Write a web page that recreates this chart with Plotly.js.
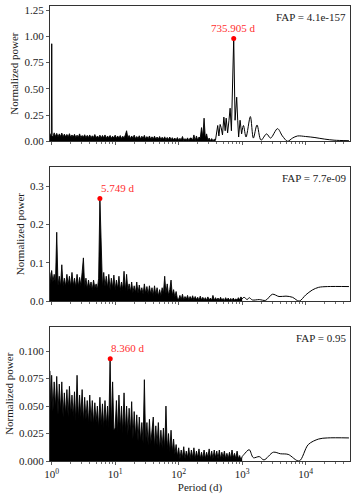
<!DOCTYPE html>
<html>
<head>
<meta charset="utf-8">
<script src="https://cdn.plot.ly/plotly-3.0.1.min.js"></script>
<style>html,body{margin:0;padding:0;background:#fff}#chart{width:357px;height:498px}</style>
</head>
<body>
<div id="chart"></div>
<script>
// Shared period grid (days) for the dense low-period part of each periodogram
const periodGrid = [0.94, 0.97,
 1.000, 1.047, 1.096, 1.148, 1.202, 1.259, 1.318, 1.380, 1.445, 1.514, 1.585, 1.660, 1.738, 1.820, 1.905, 1.995, 2.089, 2.188, 2.291, 2.399, 2.512, 2.630, 2.754, 2.884, 3.020, 3.162, 3.311, 3.467, 3.631, 3.802, 3.981, 4.169, 4.365, 4.571, 4.786, 5.012, 5.248, 5.495, 5.754, 6.026, 6.310, 6.607, 6.918, 7.244, 7.586, 7.943, 8.318, 8.710, 9.120, 9.550,
 10.00, 10.47, 10.96, 11.48, 12.02, 12.59, 13.18, 13.80, 14.45, 15.14, 15.85, 16.60, 17.38, 18.20, 19.05, 19.95, 20.89, 21.88, 22.91, 23.99, 25.12, 26.30, 27.54, 28.84, 30.20, 31.62, 33.11, 34.67, 36.31, 38.02, 39.81, 41.69, 43.65, 45.71, 47.86, 50.12, 52.48, 54.95, 57.54, 60.26, 63.10, 66.07, 69.18, 72.44, 75.86, 79.43, 83.18, 87.10, 91.20, 95.50,
 100.0, 104.7, 109.6, 114.8, 120.2, 125.9, 131.8, 138.0, 144.5, 151.4, 158.5, 166.0, 173.8, 182.0, 190.5, 199.5, 208.9, 218.8, 229.1, 239.9, 251.2, 263.0, 275.4, 288.4, 302.0, 316.2, 331.1, 346.7, 363.1, 380.2, 398.1, 416.9, 436.5, 457.1, 478.6, 501.2, 524.8, 549.5, 575.4, 602.6, 631.0, 660.7, 691.8, 724.4, 758.6, 794.3, 831.8, 871.0, 912.0, 955.0,
 1000];

// Panel 1 (FAP = 4.1e-157)
const p1Noise = [0.075, 0.05,
 0.06, 0.04, 0.08, 0.045, 0.075, 0.04, 0.07, 0.045, 0.078, 0.04,
 0.068, 0.042, 0.065, 0.04, 0.072, 0.038, 0.06, 0.04, 0.066, 0.035,
 0.058, 0.038, 0.07, 0.034, 0.055, 0.038, 0.062, 0.032, 0.056, 0.036,
 0.06, 0.032, 0.052, 0.036, 0.064, 0.03, 0.05, 0.034, 0.058, 0.03,
 0.055, 0.032, 0.06, 0.028, 0.05, 0.033, 0.055, 0.028, 0.048, 0.03,
 0.058, 0.028, 0.05, 0.03, 0.054, 0.026, 0.048, 0.03, 0.06, 0.1,
 0.03, 0.055, 0.026, 0.05, 0.028, 0.058, 0.025, 0.045, 0.026, 0.052,
 0.022, 0.048, 0.025, 0.056, 0.022, 0.044, 0.024, 0.05, 0.02, 0.042,
 0.022, 0.048, 0.018, 0.04, 0.02, 0.045, 0.017, 0.038, 0.018, 0.042,
 0.015, 0.036, 0.017, 0.04, 0.013, 0.034, 0.014, 0.03, 0.012, 0.035,
 0.01, 0.028, 0.012, 0.045, 0.008, 0.025, 0.01, 0.032, 0.006, 0.03,
 0.03, 0.01, 0.06, 0.008, 0.05, 0.01, 0.04, 0.03, 0.13, 0.04,
 0.22, 0.03, 0.07, 0.01, 0.03, 0.005, 0.025, 0.004, 0.02, 0.01];
const p1SpikePeriod = [0.99, 1.003, 1.016];
const p1SpikePower  = [0.06, 0.93, 0.06];
const p1ClusterPeriod = [380, 400, 412, 430, 450, 467, 490, 515, 540, 560, 590, 620, 646, 677, 736, 773, 820, 850, 880, 927, 980];
const p1ClusterPower  = [0.01, 0.12, 0.15, 0.05, 0.16, 0.13, 0.06, 0.23, 0.10, 0.22, 0.08, 0.20, 0.315, 0.10, 0.98, 0.20, 0.42, 0.20, 0.04, 0.20, 0.07];
const p1TailPeriod = [980, 1048, 1150, 1346, 1500, 1714, 1980, 2426, 2800, 3606, 4300, 5190, 6200, 7430, 10000, 14000, 20000, 28000, 48000];
const p1TailPower  = [0.07, 0.15, 0.04, 0.235, 0.03, 0.155, 0.01, 0.07, 0.03, 0.12, 0.05, 0.0, 0.03, 0.05, 0.045, 0.035, 0.02, 0.01, 0.005];

// Panel 2 (FAP = 7.7e-09)
const p2Noise = [0.075, 0.045,
 0.08, 0.05, 0.07, 0.045, 0.18, 0.04, 0.065, 0.038, 0.095, 0.04,
 0.06, 0.038, 0.07, 0.042, 0.065, 0.038, 0.075, 0.04, 0.06, 0.036,
 0.07, 0.038, 0.062, 0.04, 0.075, 0.113, 0.035, 0.06, 0.032, 0.055,
 0.035, 0.05, 0.03, 0.055, 0.034, 0.045, 0.03, 0.06, 0.268, 0.12,
 0.035, 0.075, 0.038, 0.065, 0.034, 0.07, 0.03, 0.06, 0.034, 0.068,
 0.03, 0.055, 0.032, 0.065, 0.028, 0.05, 0.03, 0.078, 0.025, 0.07,
 0.028, 0.045, 0.024, 0.05, 0.022, 0.04, 0.022, 0.05, 0.02, 0.042,
 0.022, 0.035, 0.018, 0.045, 0.02, 0.038, 0.017, 0.04, 0.018, 0.035,
 0.015, 0.04, 0.016, 0.035, 0.013, 0.03, 0.014, 0.035, 0.02, 0.065,
 0.02, 0.045, 0.015, 0.03, 0.055, 0.015, 0.03, 0.01, 0.025, 0.006,
 0.005, 0.015, 0.004, 0.018, 0.003, 0.012, 0.005, 0.015, 0.003, 0.012,
 0.004, 0.014, 0.003, 0.012, 0.004, 0.01, 0.002, 0.013, 0.003, 0.01,
 0.003, 0.009, 0.002, 0.011, 0.003, 0.008, 0.002, 0.015, 0.002, 0.009,
 0.003, 0.008, 0.002, 0.01, 0.002, 0.007, 0.001, 0.009, 0.002, 0.008,
 0.002, 0.007, 0.001, 0.008, 0.002, 0.006, 0.002, 0.009, 0.003, 0.011, 0.006];
const p2TailPeriod = [1000, 1070, 1200, 1290, 1450, 1860, 2340, 3000, 3800, 4900, 6200, 7900, 10000, 12700, 16000, 22000, 48000];
const p2TailPower  = [0.006, 0.01, 0.004, 0.009, 0.003, 0.004, 0.002, 0.018, 0.012, 0.013, 0.01, 0.0, 0.016, 0.029, 0.036, 0.038, 0.038];

// Panel 3 (FAP = 0.95)
const p3Noise = [0.082, 0.045,
 0.078, 0.045, 0.072, 0.048, 0.077, 0.042, 0.07, 0.045, 0.072, 0.04,
 0.062, 0.042, 0.065, 0.04, 0.068, 0.042, 0.06, 0.04, 0.063, 0.036,
 0.078, 0.038, 0.06, 0.04, 0.065, 0.035, 0.058, 0.038, 0.055, 0.034,
 0.06, 0.035, 0.055, 0.033, 0.053, 0.035, 0.05, 0.03, 0.058, 0.032,
 0.052, 0.03, 0.055, 0.032, 0.05, 0.03, 0.093, 0.03, 0.072, 0.028,
 0.03, 0.055, 0.026, 0.06, 0.028, 0.05, 0.025, 0.062, 0.026, 0.05,
 0.024, 0.048, 0.025, 0.054, 0.02, 0.045, 0.022, 0.042, 0.018, 0.04,
 0.018, 0.035, 0.016, 0.074, 0.015, 0.035, 0.014, 0.038, 0.015, 0.03,
 0.04, 0.012, 0.032, 0.014, 0.035, 0.01, 0.028, 0.012, 0.03, 0.01,
 0.05, 0.01, 0.025, 0.008, 0.028, 0.008, 0.02, 0.006, 0.015, 0.004,
 0.012, 0.002, 0.01, 0.003, 0.013, 0.002, 0.009, 0.003, 0.012, 0.002,
 0.01, 0.003, 0.012, 0.002, 0.009, 0.003, 0.011, 0.002, 0.008, 0.002,
 0.01, 0.002, 0.008, 0.003, 0.011, 0.002, 0.009, 0.002, 0.01, 0.003,
 0.009, 0.002, 0.01, 0.002, 0.008, 0.003, 0.009, 0.002, 0.007, 0.002,
 0.008, 0.002, 0.01, 0.003, 0.007, 0.002, 0.009, 0.002, 0.005, 0.001, 0.004];
const p3TailPeriod = [1000, 1070, 1290, 1500, 1860, 2200, 3100, 4000, 5300, 7900, 11000, 16000, 22000, 48000];
const p3TailPower  = [0.004, 0.006, 0.0103, 0.003, 0.004, 0.001, 0.008, 0.0066, 0.006, 0.0, 0.015, 0.020, 0.021, 0.021];

// Highest peaks and false-alarm probabilities
const peakPeriods = [735.905, 5.749, 8.360];
const peakPowers  = [0.98, 0.268, 0.093];
const peakLabels  = ['735.905 d', '5.749 d', '8.360 d'];
const fapLabels   = ['FAP = 4.1e-157', 'FAP = 7.7e-09', 'FAP = 0.95'];
const yRanges = [[0, 1.29], [0, 0.35], [0, 0.1224]];
const yTickVals = [[0, 0.25, 0.5, 0.75, 1.0, 1.25], [0, 0.1, 0.2, 0.3], [0, 0.025, 0.05, 0.075, 0.1]];
const yTickFmt = ['.2f', '.1f', '.3f'];
const xTickVals = [1, 10, 100, 1000, 10000];
const xTickText = ['10<sup>0</sup>', '10<sup>1</sup>', '10<sup>2</sup>', '10<sup>3</sup>', '10<sup>4</sup>'];
const xMinorVals = [2, 3, 4, 5, 6, 7, 8, 9, 20, 30, 40, 50, 60, 70, 80, 90, 200, 300, 400, 500, 600, 700, 800, 900,
  2000, 3000, 4000, 5000, 6000, 7000, 8000, 9000, 20000, 30000, 40000];

const FONT = 'Liberation Serif';
const ink = '#222';
const X_RANGE = [-0.026, 4.698];
const noiseSets = [p1Noise, p2Noise, p3Noise];
const tailSets = [[p1TailPeriod, p1TailPower], [p2TailPeriod, p2TailPower], [p3TailPeriod, p3TailPower]];

const traces = [];
for (let i = 0; i < 3; i++) {
  const xa = i === 0 ? 'x' : 'x' + (i + 1);
  const ya = i === 0 ? 'y' : 'y' + (i + 1);
  const pw = noiseSets[i];
  traces.push({x: periodGrid.slice(0, pw.length), y: pw, xaxis: xa, yaxis: ya, type: 'scatter', mode: 'lines',
    line: {color: '#000', width: 0.9}, fill: 'tozeroy', fillcolor: '#000', hoverinfo: 'skip'});
  if (i === 0) {
    traces.push({x: p1SpikePeriod, y: p1SpikePower, xaxis: xa, yaxis: ya, type: 'scatter', mode: 'lines',
      line: {color: '#000', width: 1}});
    traces.push({x: p1ClusterPeriod, y: p1ClusterPower, xaxis: xa, yaxis: ya, type: 'scatter', mode: 'lines',
      line: {color: '#000', width: 1}});
  }
  traces.push({x: tailSets[i][0], y: tailSets[i][1], xaxis: xa, yaxis: ya, type: 'scatter', mode: 'lines',
    line: {color: '#000', width: 1, shape: 'spline', smoothing: 0.9}});
  traces.push({x: [peakPeriods[i]], y: [peakPowers[i]], xaxis: xa, yaxis: ya, type: 'scatter', mode: 'markers',
    marker: {color: '#ff0000', size: 5}});
  // empty trace on the overlay axis carrying the minor ticks
  traces.push({x: [], y: [], xaxis: 'x' + (i + 4), yaxis: ya, type: 'scatter', mode: 'lines', showlegend: false});
}

const domains = [[0.7028, 1.0], [0.3514, 0.6457], [0.0, 0.2956]];
const layout = {
  width: 357, height: 498,
  margin: {l: 50, r: 7, t: 6, b: 36.7},
  paper_bgcolor: '#fff', plot_bgcolor: '#fff',
  showlegend: false,
  font: {family: FONT, size: 11, color: ink},
  annotations: []
};
for (let i = 0; i < 3; i++) {
  const sx = i === 0 ? '' : String(i + 1);
  const xaxis = {
    type: 'log', range: X_RANGE, domain: [0, 1], anchor: 'y' + sx,
    showline: true, linecolor: '#333', linewidth: 1, mirror: true,
    showgrid: false, zeroline: false,
    ticks: 'outside', ticklen: 3, tickcolor: '#333', tickwidth: 0.8,
    tickmode: 'array', tickvals: xTickVals, ticktext: xTickText,
    showticklabels: i === 2,
    tickfont: {family: FONT, size: 11, color: ink}
  };
  if (i === 2) xaxis.title = {text: 'Period (d)', font: {family: FONT, size: 11, color: ink}, standoff: 4};
  const yaxis = {
    domain: domains[i], anchor: 'x' + sx, range: yRanges[i],
    showline: true, linecolor: '#333', linewidth: 1, mirror: true,
    showgrid: false, zeroline: false,
    ticks: 'outside', ticklen: 3, tickcolor: '#333', tickwidth: 0.8,
    tickmode: 'array', tickvals: yTickVals[i], tickformat: yTickFmt[i],
    tickfont: {family: FONT, size: 11, color: ink},
    title: {text: 'Normalized power', font: {family: FONT, size: 11, color: ink}, standoff: 3}
  };
  layout['xaxis' + sx] = xaxis;
  layout['yaxis' + sx] = yaxis;
  // overlay axis for minor x ticks
  layout['xaxis' + (i + 4)] = {
    type: 'log', range: X_RANGE, overlaying: 'x' + sx, anchor: 'y' + sx, side: 'bottom',
    showline: false, showgrid: false, zeroline: false, showticklabels: false,
    ticks: 'outside', ticklen: 2, tickcolor: '#333', tickwidth: 0.7,
    tickmode: 'array', tickvals: xMinorVals
  };
  layout.annotations.push({
    xref: 'x' + sx + ' domain', yref: 'y' + sx + ' domain', x: 1, y: 1, xshift: -2, yshift: -3,
    xanchor: 'right', yanchor: 'top', showarrow: false, text: fapLabels[i],
    font: {family: FONT, size: 11, color: ink}
  });
  layout.annotations.push({
    xref: 'x' + sx, yref: 'y' + sx, x: Math.log10(peakPeriods[i]), y: peakPowers[i],
    xanchor: i === 0 ? 'center' : 'left', yanchor: 'middle', yshift: 11, xshift: i === 0 ? 0 : -1,
    showarrow: false, text: peakLabels[i], font: {family: FONT, size: 11, color: '#ff3030'}
  });
}
Plotly.newPlot('chart', traces, layout, {displayModeBar: false, staticPlot: true});
</script>
</body>
</html>
